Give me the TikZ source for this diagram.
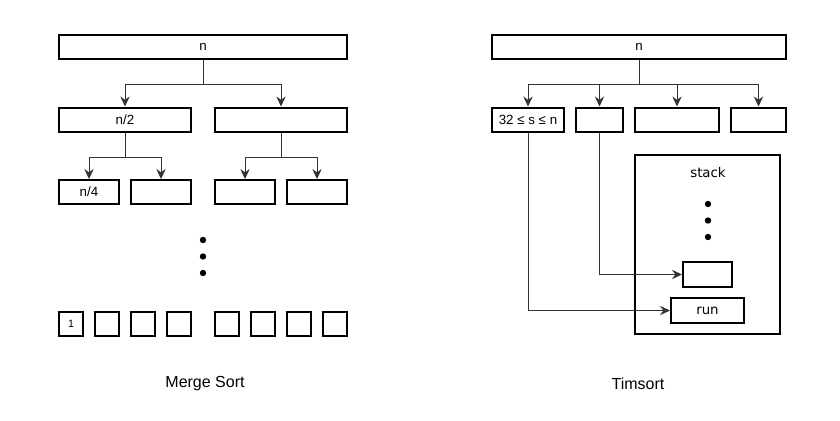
\documentclass[tikz,border=0pt]{standalone}
\usepackage{fontspec}
\setmainfont{Liberation Sans}
\newfontfamily\stackfont{DejaVu Sans}
\usetikzlibrary{arrows.meta, positioning, calc}
\definecolor{linegray}{RGB}{51, 51, 51}
\tikzset{
    sortbox/.style={draw, rectangle, line width=1.5pt, minimum height=18pt, inner sep=0pt, font=\fontsize{10}{12}\selectfont, align=center},
    cellbox/.style={sortbox, minimum width=18pt, minimum height=18pt, font=\fontsize{8}{9}\selectfont},
    stackbox/.style={sortbox, font=\stackfont\fontsize{10}{12}\selectfont},
    splitarrow/.style={-{Stealth[length=7.5pt, width=7pt, inset=2.5pt]}, line width=0.75pt, draw=linegray},
    caption/.style={font=\fontsize{12}{14}\selectfont},
    dotfill/.style={fill=black},
}
\begin{document}
\begin{tikzpicture}[x=0.75pt, y=-0.75pt]
    \useasboundingbox (0,0) rectangle (840,421);

    % Merge sort tree
    \node[sortbox, minimum width=216pt] (ms) at (203,47) {n};
    \node[sortbox, minimum width=99pt] (ms1) at (125,119.5) {n/2};
    \node[sortbox, minimum width=99pt] (ms2) at (281,119.5) {};
    \node[sortbox, minimum width=45pt] (ms11) at (89,192) {n/4};
    \node[sortbox, minimum width=45pt] (ms12) at (161,192) {};
    \node[sortbox, minimum width=45pt] (ms21) at (245,192) {};
    \node[sortbox, minimum width=45pt] (ms22) at (317,192) {};

    \draw[splitarrow] (ms.south) -- ++(0,24) -| (ms1.north);
    \draw[splitarrow] (ms.south) -- ++(0,24) -| (ms2.north);
    \draw[splitarrow] (ms1.south) -- ++(0,25) -| (ms11.north);
    \draw[splitarrow] (ms1.south) -- ++(0,25) -| (ms12.north);
    \draw[splitarrow] (ms2.south) -- ++(0,25) -| (ms21.north);
    \draw[splitarrow] (ms2.south) -- ++(0,25) -| (ms22.north);

    % Dots
    \foreach \y in {240,256.5,273}
        \fill[dotfill] (203,\y) circle[radius=2.4pt];

    % Single cells
    \node[cellbox] (cell1) at (71,324) {1};
    \foreach \x/\name in {107/cell2,143/cell3,179/cell4,227/cell5,263/cell6,299/cell7,335/cell8}
        \node[cellbox] (\name) at (\x,324) {};

    % Timsort runs
    \node[sortbox, minimum width=220.5pt] (ts) at (639,47) {n};
    \node[sortbox, minimum width=54pt] (run1) at (528,119.5) {32 ≤ s ≤ n};
    \node[sortbox, minimum width=35.25pt] (run2) at (599.5,119.5) {};
    \node[sortbox, minimum width=63pt] (run3) at (677,119.5) {};
    \node[sortbox, minimum width=41.25pt] (run4) at (758.5,119.5) {};

    \foreach \r in {run1,run2,run3,run4}
        \draw[splitarrow] (ts.south) -- ++(0,24) -| (\r.north);

    % Stack
    \node[stackbox, minimum width=108.75pt, minimum height=134.25pt] (stack) at (707.5,244.5) {};
    \node[stackbox, draw=none] (stacklabel) at (708,173) {stack};
    \foreach \y in {204,220.5,237}
        \fill[dotfill] (708,\y) circle[radius=2.4pt];
    \node[stackbox, minimum width=36.75pt, minimum height=18.75pt] (slot) at (707.5,274.5) {};
    \node[stackbox, minimum width=54.75pt, minimum height=18.75pt] (runslot) at (707.5,310.5) {run};

    \draw[splitarrow] (run2.south) |- (slot.west);
    \draw[splitarrow] (run1.south) |- (runslot.west);

    % Captions
    \node[caption] (mscap) at (205,384) {Merge Sort};
    \node[caption] (tscap) at (638,384) {Timsort};
\end{tikzpicture}
\end{document}
